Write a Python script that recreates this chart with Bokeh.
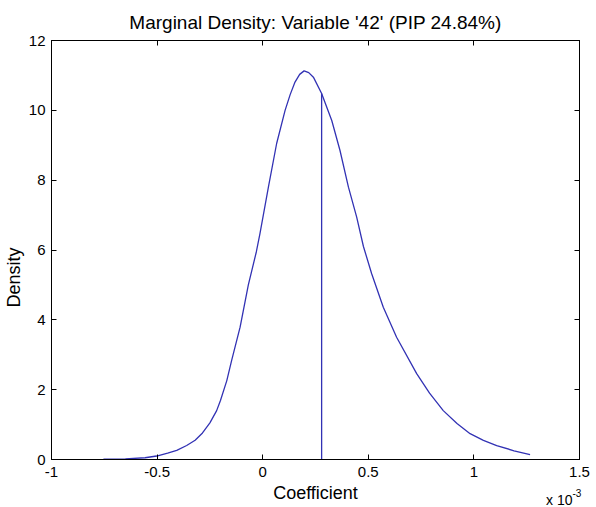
from bokeh.plotting import figure
from bokeh.models import LinearAxis, Range1d, FixedTicker, Div, Title
from bokeh.layouts import column
from bokeh.embed import file_html
from bokeh.resources import INLINE

# Coefficient values in units of 1e-3
coef = [-0.754, -0.65, -0.557, -0.502, -0.45, -0.407, -0.36, -0.32, -0.285, -0.25,
        -0.218, -0.2, -0.17, -0.147, -0.107, -0.068, -0.03, -0.013, 0.027, 0.066,
        0.106, 0.13, 0.153, 0.175, 0.196, 0.218, 0.24, 0.279, 0.327, 0.366, 0.406,
        0.445, 0.477, 0.516, 0.571, 0.634, 0.729, 0.79, 0.855, 0.92, 0.982, 1.045,
        1.108, 1.19, 1.266]
density = [0.01, 0.02, 0.05, 0.10, 0.18, 0.26, 0.40, 0.55, 0.76, 1.05,
           1.40, 1.69, 2.26, 2.84, 3.79, 5.00, 5.95, 6.47, 7.80, 9.05,
           10.0, 10.45, 10.81, 11.03, 11.13, 11.08, 10.95, 10.48, 9.71, 8.85, 7.80,
           6.94, 6.10, 5.32, 4.36, 3.50, 2.46, 1.90, 1.40, 1.03, 0.74, 0.55,
           0.40, 0.25, 0.14]
mean_coef = [0.279]
mean_density = [10.48]

x_ticks = [-1, -0.5, 0, 0.5, 1, 1.5]
x_tick_labels = ["-1", "-0.5", "0", "0.5", "1", "1.5"]
y_ticks = [0, 2, 4, 6, 8, 10, 12]
title_text = "Marginal Density: Variable '42' (PIP 24.84%)"
x_label = "Coefficient"
y_label = "Density"
scale_text = "x 10"
scale_exp = "-3"

FONT = "Liberation Sans"
LINE = "#3232b4"

p = figure(width=588, height=507, output_backend="svg", toolbar_location=None,
           x_range=Range1d(-1, 1.5), y_range=Range1d(0, 12),
           frame_width=528, frame_height=419,
           min_border_left=47, min_border_top=40, min_border_right=13, min_border_bottom=48,
           title=title_text)
p.title.align = "center"
p.title.text_font = FONT
p.title.text_font_size = "19px"
p.title.text_font_style = "normal"
p.title.text_color = "black"
p.title.standoff = 16
p.grid.visible = False
p.outline_line_color = "black"
p.outline_line_width = 1
p.background_fill_color = "white"
p.border_fill_color = None

p.line(coef, density, line_color=LINE, line_width=1.3)
p.segment(x0=mean_coef, y0=[0], x1=mean_coef, y1=mean_density, line_color=LINE, line_width=1.3)

def style(ax):
    ax.axis_line_color = "black"
    ax.major_tick_in = 5
    ax.major_tick_out = 0
    ax.minor_tick_line_color = None
    ax.major_tick_line_color = "black"
    ax.major_label_text_font = FONT
    ax.major_label_text_font_size = "15px"
    ax.major_label_text_color = "black"
    ax.axis_label_text_font = FONT
    ax.axis_label_text_font_size = "18px"
    ax.axis_label_text_font_style = "normal"
    ax.axis_label_text_color = "black"

xa = p.xaxis[0]
xa.ticker = FixedTicker(ticks=x_ticks)
xa.major_label_overrides = {t: l for t, l in zip(x_ticks, x_tick_labels)}
xa.axis_label = x_label
xa.major_label_standoff = 7
xa.axis_label_standoff = 3
style(xa)

ya = p.yaxis[0]
ya.ticker = FixedTicker(ticks=y_ticks)
ya.major_label_standoff = 6
style(ya)

p.add_layout(Title(text=y_label, align="left", offset=152, standoff=3,
                   text_font=FONT, text_font_size="18px", text_font_style="normal",
                   text_color="black"), "left")

top = LinearAxis(ticker=FixedTicker(ticks=x_ticks))
style(top)
top.major_label_overrides = {t: "" for t in x_ticks}
top.major_label_standoff = 0
p.add_layout(top, "above")
right = LinearAxis(ticker=FixedTicker(ticks=y_ticks))
style(right)
right.major_label_overrides = {t: "" for t in y_ticks}
right.major_label_standoff = 0
p.add_layout(right, "right")

scale_div = Div(
    text=(f"<span style='font-family:{FONT}; font-size:14px; color:black;'>{scale_text}"
          f"<span style='font-size:10px; position:relative; top:-8px;'>{scale_exp}</span></span>"),
    width=40, height=14, margin=(-14, 0, 0, 546),
    styles={"font-family": FONT, "font-size": "14px", "color": "black",
            "line-height": "14px", "position": "relative", "z-index": "10",
            "white-space": "nowrap", "overflow": "visible"},
)

layout = column(p, scale_div, spacing=0)
open("out.html", "w").write(file_html(layout, INLINE))
